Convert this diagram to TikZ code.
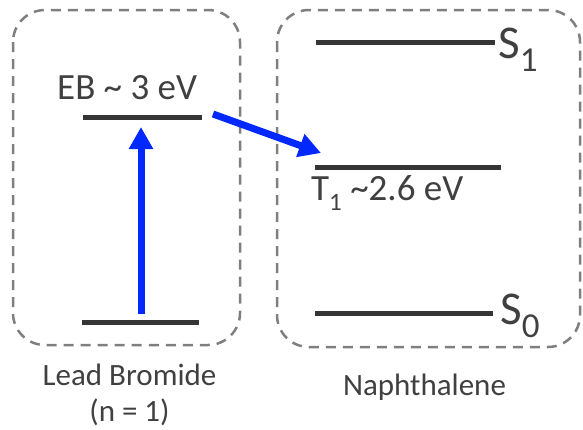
\documentclass[tikz,border=0pt]{standalone}
\usepackage{fontspec}
\setmainfont{Carlito}
\usetikzlibrary{arrows.meta}
\definecolor{textgray}{HTML}{404040}
\definecolor{levelgray}{HTML}{353535}
\definecolor{framegray}{HTML}{7F7F7F}
\definecolor{arrowblue}{RGB}{0,40,255}
\begin{document}
\begin{tikzpicture}[x=1pt,y=-1pt,
  frame/.style={draw=framegray, line width=2.5pt, dash pattern=on 10pt off 7pt, rounded corners=32pt},
  level/.style={draw=levelgray, line width=5pt},
  transfer/.style={draw=arrowblue, line width=7pt, -{Triangle[length=22pt,width=23pt]}},
  label/.style={text=textgray, inner sep=0pt, font=\fontsize{37}{44}\selectfont},
  statelabel/.style={text=textgray, inner sep=0pt, font=\fontsize{47}{54}\selectfont},
  caption/.style={text=textgray, inner sep=0pt, font=\fontsize{31}{37}\selectfont}]
\useasboundingbox (0,0) rectangle (583,429);

% dashed frames around the two materials
\draw[frame] (13,10) rectangle (240,345);
\draw[frame] (277,10) rectangle (580,347);

% energy levels, lead bromide (n = 1)
\coordinate (ebL) at (83,117);  \coordinate (ebR) at (202,117);
\coordinate (gsL) at (82,322);  \coordinate (gsR) at (199,322);
\draw[level] (ebL) -- (ebR);
\draw[level] (gsL) -- (gsR);

% energy levels, naphthalene
\coordinate (s1L) at (316,42);  \coordinate (s1R) at (495,42);
\coordinate (t1L) at (315,167); \coordinate (t1R) at (501,167);
\coordinate (s0L) at (315,313); \coordinate (s0R) at (493,313);
\draw[level] (s1L) -- (s1R);
\draw[level] (t1L) -- (t1R);
\draw[level] (s0L) -- (s0R);

% excitation and energy transfer
\coordinate (pumpfoot) at (141,314);
\coordinate (pumptip) at (141,127);
\coordinate (etstart) at (213,114);
\coordinate (ettip) at (321,153);
\draw[transfer] (pumpfoot) -- (pumptip);
\draw[transfer] (etstart) -- (ettip);

% level labels
\node[label, anchor=base west] (eb) at (57,99) {EB \textasciitilde\ 3 eV};
\node[label, anchor=base west] (t1) at (311,200)
  {T\raisebox{-10pt}{\fontsize{25}{25}\selectfont 1} \textasciitilde2.6 eV};
\node[statelabel, anchor=base west] (s1) at (498,58)
  {S\raisebox{-13pt}{\fontsize{35}{35}\selectfont 1}};
\node[statelabel, anchor=base west] (s0) at (500,324)
  {S\raisebox{-13pt}{\fontsize{35}{35}\selectfont 0}};

% material captions
\node[caption, anchor=base] (pbbr) at (129.5,385) {Lead Bromide};
\node[caption, anchor=base] (nlayer) at (129.5,421) {(n = 1)};
\node[caption, anchor=base] (naph) at (424.5,395) {Naphthalene};
\end{tikzpicture}
\end{document}
